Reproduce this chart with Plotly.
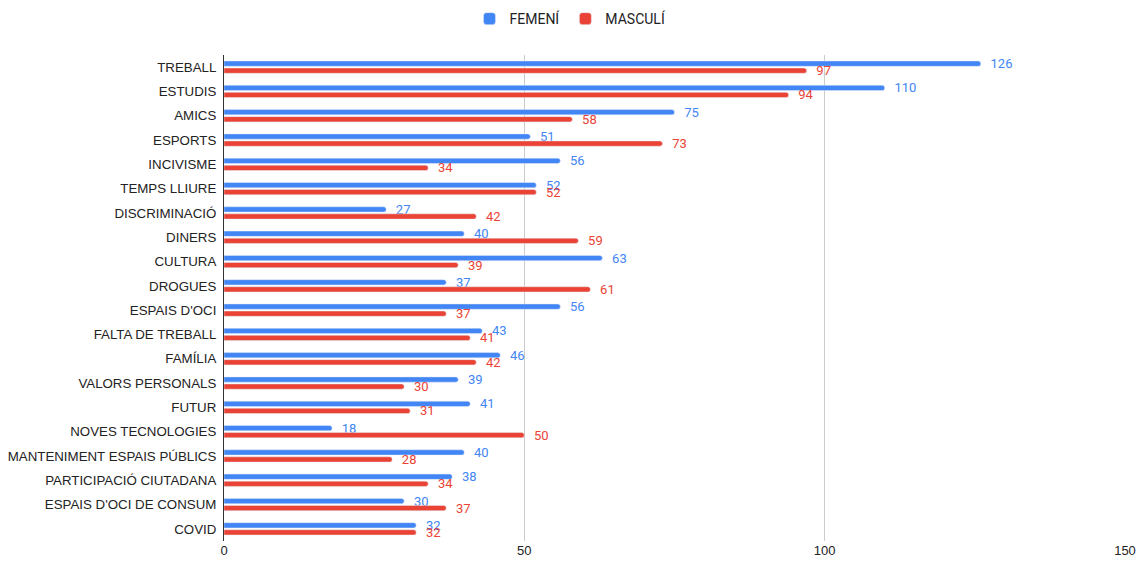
import plotly.graph_objects as go

categories = ["TREBALL", "ESTUDIS", "AMICS", "ESPORTS", "INCIVISME", "TEMPS LLIURE",
              "DISCRIMINACIÓ", "DINERS", "CULTURA", "DROGUES", "ESPAIS D'OCI",
              "FALTA DE TREBALL", "FAMÍLIA", "VALORS PERSONALS", "FUTUR",
              "NOVES TECNOLOGIES", "MANTENIMENT ESPAIS PÚBLICS", "PARTICIPACIÓ CIUTADANA",
              "ESPAIS D'OCI DE CONSUM", "COVID"]
femeni = [126, 110, 75, 51, 56, 52, 27, 40, 63, 37, 56, 43, 46, 39, 41, 18, 40, 38, 30, 32]
masculi = [97, 94, 58, 73, 34, 52, 42, 59, 39, 61, 37, 41, 42, 30, 31, 50, 28, 34, 37, 32]
x_ticks = [0, 50, 100, 150]

BLUE = "#4285F4"
RED = "#EA4335"

fig = go.Figure()
for name, vals, col in [("FEMENÍ", femeni, BLUE), ("MASCULÍ", masculi, RED)]:
    fig.add_trace(go.Bar(
        y=categories, x=vals, name=name, orientation="h",
        marker=dict(color=col, cornerradius=3),
        text=["   " + str(v) for v in vals], textposition="outside",
        constraintext="none",
        textfont=dict(color=col, size=13, family="Roboto"),
        cliponaxis=False,
    ))

fig.update_layout(
    width=1141, height=568,
    margin=dict(l=224, r=16, t=55, b=27, autoexpand=False),
    barmode="group", bargap=0.42, bargroupgap=0.25,
    plot_bgcolor="white", paper_bgcolor="white",
    font=dict(family="Liberation Sans", color="#222222", size=13.3),
    legend=dict(orientation="h", x=0.5, xanchor="center", xref="container",
                y=0.9665, yanchor="middle", yref="container",
                font=dict(size=14, color="#222222", family="Roboto"),
                traceorder="normal", itemwidth=30),
    xaxis=dict(range=[0, 150], tickvals=x_ticks, showgrid=True, gridcolor="#cccccc",
               zeroline=False, showline=False, ticks="", automargin=False,
               tickfont=dict(size=13, color="#222222")),
    yaxis=dict(autorange="reversed", showline=True, linecolor="#333333", linewidth=1,
               ticks="", ticklabelstandoff=4, automargin=False,
               tickfont=dict(size=13.3, color="#222222")),
)

fig.write_html("out.html", config={"displayModeBar": False},
               post_script="document.body.style.margin='0';document.body.style.overflow='hidden';")
